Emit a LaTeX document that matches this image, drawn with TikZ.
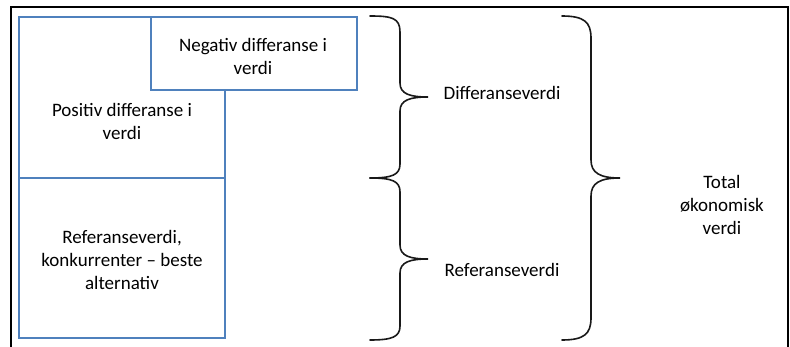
\documentclass[tikz,border=0pt]{standalone}
\usepackage{fontspec}
\setmainfont{Carlito}
\definecolor{boxblue}{RGB}{79,129,189}
\begin{document}
\begin{tikzpicture}[x=1pt,y=-1pt,
  box/.style={draw=boxblue,line width=1.5pt,fill=white,inner sep=0pt},
  txt/.style={align=center,font=\fontsize{19}{23}\selectfont,inner sep=0pt},
  brace/.style={draw=black!90,line width=1.6pt,line cap=round}]
\useasboundingbox (0,0) rectangle (790,347);
% outer frame (bottom edge lies outside the picture)
\coordinate (fbl) at (11,350);
\coordinate (ftl) at (11,7);
\coordinate (ftr) at (788,7);
\coordinate (fbr) at (788,350);
\draw[line width=2pt] (fbl) -- (ftl) -- (ftr) -- (fbr);
% boxes
\node[box,minimum width=206pt,minimum height=161pt] (pos) at (122,97.5) {};
\node[box,minimum width=206pt,minimum height=73pt] (neg) at (254,53.5) {};
\node[box,minimum width=206pt,minimum height=160pt] (ref) at (122,258) {};
\node[txt] (postxt) at (122,121) {Positiv differanse i\\verdi};
\node[txt] (negtxt) at (253,56) {Negativ differanse i\\verdi};
\node[txt] (reftxt) at (122,260) {Referanseverdi,\\konkurrenter -- beste\\alternativ};
% braces
\path[brace] (370,16) .. controls (392,16) and (400,18) .. (400,32) -- (400,83)
  .. controls (400,94) and (410,97) .. (428,97)
  .. controls (410,97) and (400,100) .. (400,111) -- (400,164)
  .. controls (400,175) and (392,178) .. (370,178);
\path[brace] (370,178) .. controls (392,178) and (400,181) .. (400,192) -- (400,245)
  .. controls (400,256) and (410,259) .. (428,259)
  .. controls (410,259) and (400,262) .. (400,273) -- (400,326)
  .. controls (400,337) and (392,340) .. (370,340);
\path[brace] (562,16) .. controls (584,16) and (591,22) .. (591,38) -- (591,160)
  .. controls (591,173) and (600,178) .. (620,178)
  .. controls (600,178) and (591,183) .. (591,196) -- (591,318)
  .. controls (591,334) and (584,340) .. (562,340);
% labels
\node[txt] (diff) at (502,93) {Differanseverdi};
\node[txt] (refv) at (502,270) {Referanseverdi};
\node[txt] (total) at (722,205) {Total\\økonomisk\\verdi};
\end{tikzpicture}
\end{document}
